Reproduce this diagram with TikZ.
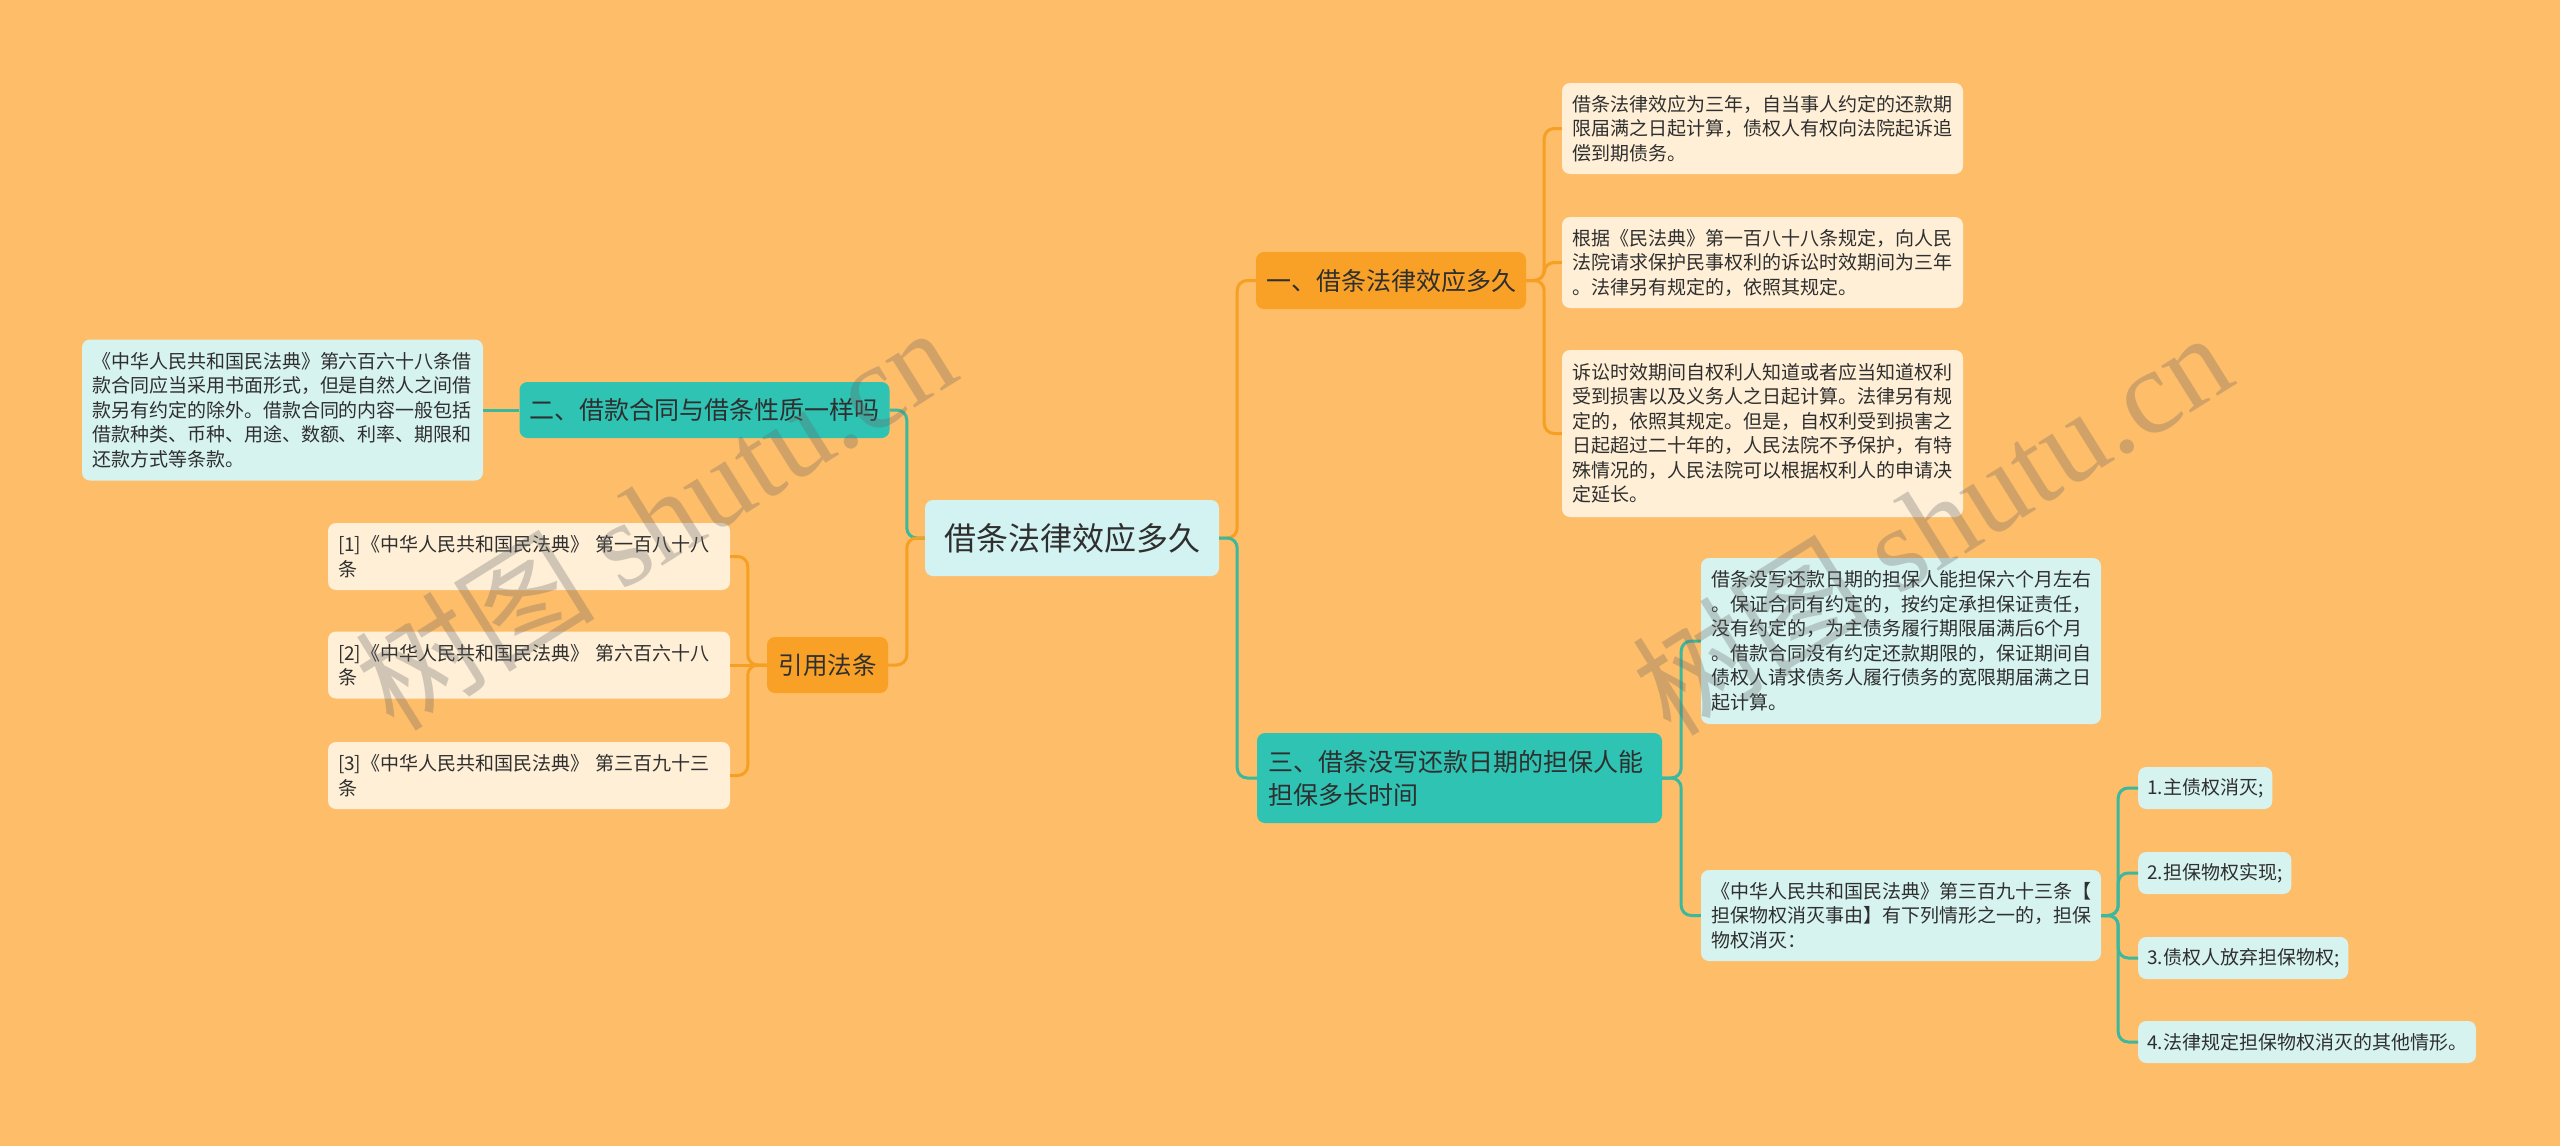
\documentclass[tikz,border=0pt]{standalone}
\usepackage{fontspec}
\setmainfont{Noto Sans CJK SC}
\newfontfamily\wmserif{Liberation Serif}
\usepackage{xcolor}
\usepackage{tikz}
\usetikzlibrary{positioning,calc}
\definecolor{mmbg}{HTML}{FEBD69}
\definecolor{mmorange}{HTML}{F9A126}
\definecolor{mmteal}{HTML}{2EC3B2}
\definecolor{mmroot}{HTML}{D2F3F1}
\definecolor{mmcream}{HTML}{FFEFD6}
\definecolor{mmice}{HTML}{D6F3EF}
\definecolor{mmink}{HTML}{2F2F2F}
\definecolor{mmoline}{HTML}{F5A022}
\definecolor{mmtline}{HTML}{3BB89E}
\newcommand{\mmsize}[2]{\fontsize{#1}{#2}\selectfont}
\tikzset{
  box/.style={rounded corners=8pt, align=left, text=mmink,
              inner xsep=10pt, inner ysep=4pt},
  cream/.style={box, fill=mmcream, font=\mmsize{19}{24.5}},
  ice/.style={box, fill=mmice, font=\mmsize{19}{24.5}},
  obranch/.style={box, fill=mmorange, font=\mmsize{25}{33}},
  tbranch/.style={box, fill=mmteal, font=\mmsize{25}{33}},
  olink/.style={draw=mmoline, line width=3pt, rounded corners=10pt},
  tlink/.style={draw=mmtline, line width=3pt, rounded corners=10pt},
  wmark/.style={font=\mmsize{120}{120}, text=black!60, opacity=0.3, rotate=32},
}
\begin{document}
\begin{tikzpicture}[x=1pt, y=-1pt,
    leaf/.style={text width=381pt, minimum height=91pt},
    ref/.style={cream, text width=382pt, minimum height=67pt},
    item/.style={ice, anchor=west, inner xsep=9pt, minimum height=42pt},
  ]
  \fill[mmbg] (0,0) rectangle (2560,1146);

  \node[box, fill=mmroot, align=center, font=\mmsize{32}{38},
        minimum width=294pt, minimum height=76pt] (root) at (1072,538) {借条法律效应多久};

  \node[obranch, minimum width=270pt, minimum height=57pt] (b1) at (1391,280.5) {一、借条法律效应多久};
  \node[tbranch, minimum width=367pt, minimum height=56pt] (b2) at (704.5,410) {二、借款合同与借条性质一样吗};
  \node[tbranch, text width=383pt, inner xsep=11pt, minimum height=90pt] (b3) at (1459.5,778)
    {三、借条没写还款日期的担保人能\\担保多长时间};
  \node[obranch, font=\mmsize{24.5}{30}, minimum width=121pt, minimum height=56pt] (cite) at (827.5,665) {引用法条};

  \node[cream, leaf] (l1a) at (1762.5,128.5)
    {借条法律效应为三年，自当事人约定的还款期\\限届满之日起计算，债权人有权向法院起诉追\\偿到期债务。};
  \node[cream, leaf] (l1b) at (1762.5,262.5)
    {根据《民法典》第一百八十八条规定，向人民\\法院请求保护民事权利的诉讼时效期间为三年\\。法律另有规定的，依照其规定。};
  \node[cream, leaf, minimum height=167pt] (l1c) at (1762.5,433.5)
    {诉讼时效期间自权利人知道或者应当知道权利\\受到损害以及义务人之日起计算。法律另有规\\定的，依照其规定。但是，自权利受到损害之\\日起超过二十年的，人民法院不予保护，有特\\殊情况的，人民法院可以根据权利人的申请决\\定延长。};

  \node[ice, leaf, minimum height=141pt] (l2a) at (282.5,410)
    {《中华人民共和国民法典》第六百六十八条借\\款合同应当采用书面形式，但是自然人之间借\\款另有约定的除外。借款合同的内容一般包括\\借款种类、币种、用途、数额、利率、期限和\\还款方式等条款。};

  \node[ref] (r1) at (529,556.5) {[1]《中华人民共和国民法典》 第一百八十八\\条};
  \node[ref] (r2) at (529,665) {[2]《中华人民共和国民法典》 第六百六十八\\条};
  \node[ref] (r3) at (529,775.5) {[3]《中华人民共和国民法典》 第三百九十三\\条};

  \node[ice, leaf, text width=380pt, minimum height=166pt] (l3a) at (1901,641)
    {借条没写还款日期的担保人能担保六个月左右\\。保证合同有约定的，按约定承担保证责任，\\没有约定的，为主债务履行期限届满后6个月\\。借款合同没有约定还款期限的，保证期间自\\债权人请求债务人履行债务的宽限期届满之日\\起计算。};
  \node[ice, leaf, text width=380pt] (l3b) at (1901,915.5)
    {《中华人民共和国民法典》第三百九十三条【\\担保物权消灭事由】有下列情形之一的，担保\\物权消灭：};

  \node[item] (s1) at (2138,788) {1.主债权消灭;};
  \node[item] (s2) at (2138,873) {2.担保物权实现;};
  \node[item] (s3) at (2138,958) {3.债权人放弃担保物权;};
  \node[item] (s4) at (2138,1042) {4.法律规定担保物权消灭的其他情形。};

  \draw[olink] (root.east) -- ++(18,0) |- (b1);
  \draw[tlink] (root.east) -- ++(18,0) |- (b3);
  \draw[tlink] (root.west) -- ++(-18,0) |- (b2);
  \draw[olink] (root.west) -- ++(-18,0) |- (cite);

  \draw[olink] (b1.east) -- ++(18,0) |- (l1a);
  \draw[olink] (b1.east) -- ++(18,0) |- (l1b);
  \draw[olink] (b1.east) -- ++(18,0) |- (l1c);

  \draw[tlink] (b2) -- (l2a);

  \draw[olink] (cite.west) -- ++(-19,0) |- (r1);
  \draw[olink] (cite) -- (r2);
  \draw[olink] (cite.west) -- ++(-19,0) |- (r3);

  \draw[tlink] (b3.east) -- ++(19,0) |- (l3a);
  \draw[tlink] (b3.east) -- ++(19,0) |- (l3b);

  \draw[tlink] (l3b.east) -- ++(17,0) |- (s1);
  \draw[tlink] (l3b.east) -- ++(17,0) |- (s2);
  \draw[tlink] (l3b.east) -- ++(17,0) |- (s3);
  \draw[tlink] (l3b.east) -- ++(17,0) |- (s4);

  \node[wmark] (wm1) at (655,517) {树图 {\wmserif shutu.cn}};
  \node[wmark] (wm2) at (1931,522) {树图 {\wmserif shutu.cn}};
\end{tikzpicture}
\end{document}
